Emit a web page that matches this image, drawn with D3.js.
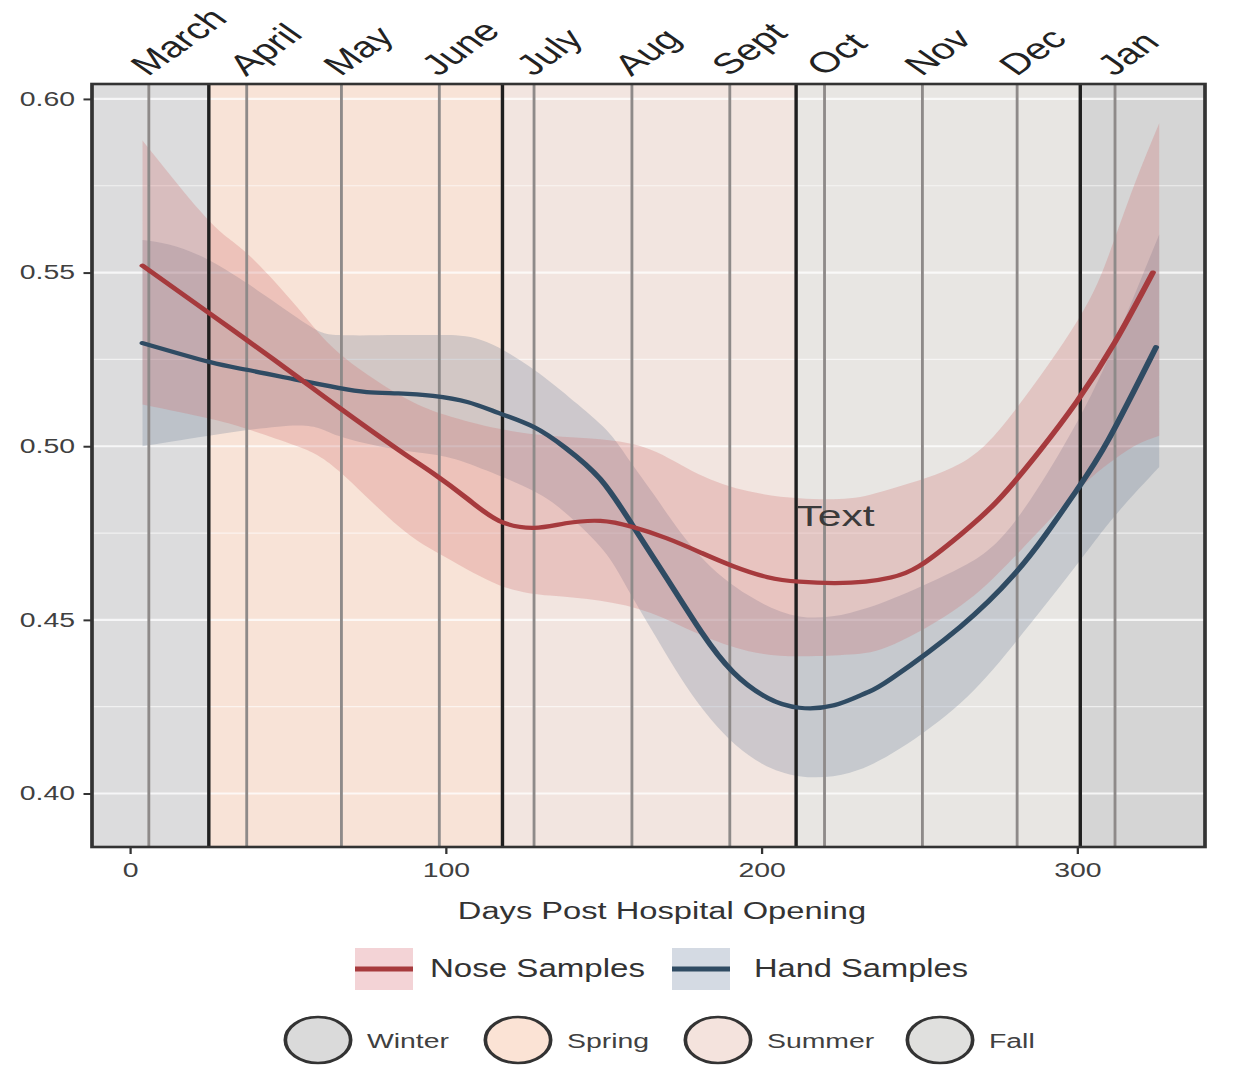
<!DOCTYPE html>
<html>
<head>
<meta charset="utf-8">
<script src="https://cdn.jsdelivr.net/npm/d3@7"></script>
<style>
  html, body { margin: 0; padding: 0; background: #ffffff; }
  svg { display: block; font-family: "Liberation Sans", Arial, Helvetica, sans-serif; }
</style>
</head>
<body>
<svg id="chart"></svg>
<script>
// ---------------- DATA ----------------
const monthLabels = ["March", "April", "May", "June", "July", "Aug", "Sept", "Oct", "Nov", "Dec", "Jan"];
const monthDays = [6, 37, 67, 98, 128, 159, 190, 220, 251, 281, 312];
const seasonBoundaryDays = [25, 118, 211, 301];
const seasonBandNames = ["Winter", "Spring", "Summer", "Fall", "Winter"];
const seasonLegendNames = ["Winter", "Spring", "Summer", "Fall"];
const yTicks = [0.40, 0.45, 0.50, 0.55, 0.60];
const yMinorTicks = [0.425, 0.475, 0.525, 0.575];
const xTicks = [0, 100, 200, 300];

// Nose samples (red) smoothed line
const noseDays = [4, 25, 37, 53, 66, 85, 96, 107, 117, 128, 138, 149, 159, 170, 181, 191, 202, 212, 223, 233, 241, 250, 263, 275, 288, 300, 312, 324];
const noseValues = [0.552, 0.5384, 0.5306, 0.5200, 0.5113, 0.4990, 0.4922, 0.4848, 0.4785, 0.4765, 0.4778, 0.4785, 0.4768, 0.4735, 0.4693, 0.4655, 0.4623, 0.4610, 0.4606, 0.4610, 0.4622, 0.4655, 0.4745, 0.4845, 0.4985, 0.5130, 0.5300, 0.5500];
// Nose confidence band
const noseBandDays = [4, 25, 37, 53, 66, 85, 100, 117, 133, 149, 165, 180, 196, 212, 228, 242, 263, 280, 300, 310, 318, 326];
const noseUpper = [0.588, 0.565, 0.5556, 0.540, 0.527, 0.515, 0.509, 0.505, 0.503, 0.502, 0.499, 0.492, 0.487, 0.485, 0.485, 0.488, 0.495, 0.510, 0.536, 0.555, 0.575, 0.593];
const noseLower = [0.512, 0.508, 0.505, 0.500, 0.493, 0.477, 0.468, 0.4600, 0.4570, 0.4555, 0.452, 0.446, 0.441, 0.4395, 0.440, 0.443, 0.454, 0.468, 0.487, 0.495, 0.500, 0.503];

// Hand samples (blue) smoothed line
const handDays = [4, 25, 37, 53, 66, 75, 85, 96, 107, 117, 128, 138, 149, 159, 170, 181, 191, 202, 212, 223, 233, 241, 263, 280, 290, 300, 310, 325];
const handValues = [0.5297, 0.5243, 0.5220, 0.5191, 0.5168, 0.5156, 0.5152, 0.5145, 0.5127, 0.5095, 0.5055, 0.4995, 0.4905, 0.4775, 0.4620, 0.4465, 0.4350, 0.4275, 0.4247, 0.4254, 0.4289, 0.4330, 0.4480, 0.4630, 0.4745, 0.4875, 0.5020, 0.5285];
// Hand confidence band
const handBandDays = [4, 25, 53, 66, 85, 100, 113, 128, 139, 150, 157, 166, 180, 196, 212, 228, 244, 263, 280, 300, 312, 326];
const handUpper = [0.5594, 0.5536, 0.537, 0.532, 0.532, 0.532, 0.530, 0.522, 0.5142, 0.5055, 0.4975, 0.4860, 0.4690, 0.4570, 0.4510, 0.4520, 0.4570, 0.4650, 0.4780, 0.5070, 0.5300, 0.5610];
const handLower = [0.500, 0.503, 0.506, 0.503, 0.499, 0.497, 0.493, 0.487, 0.480, 0.470, 0.460, 0.446, 0.426, 0.411, 0.405, 0.406, 0.413, 0.426, 0.443, 0.466, 0.480, 0.494];

const seriesNames = ["Nose Samples", "Hand Samples"];

// ---------------- STYLE / LAYOUT ----------------
const W = 1248, H = 1065;
const SX = 1.42;               // horizontal stretch of the reference picture
const VW = W / SX;
const px0 = 92 / SX, px1 = 1205 / SX, py0 = 84, py1 = 847;
const seasonFills = ["#dcdcdd", "#f8e3d7", "#f2e5e0", "#e8e6e3", "#d5d5d5"];
const legendFills = { Winter: "#dadada", Spring: "#fbe3d5", Summer: "#f4e3dd", Fall: "#e0e0de" };
const noseColor = "#a63a3d", handColor = "#2f4b63";

const svg = d3.select("#chart")
  .attr("width", W).attr("height", H)
  .attr("viewBox", `0 0 ${VW} ${H}`)
  .attr("preserveAspectRatio", "none");

const x = d3.scaleLinear().domain([-12, 340.5]).range([px0, px1]);
const y = d3.scaleLinear().domain([0.3846, 0.6043]).range([py1, py0]);
const [d0, d1] = x.domain();

svg.append("defs").append("clipPath").attr("id", "panel")
  .append("rect").attr("x", px0).attr("y", py0).attr("width", px1 - px0).attr("height", py1 - py0);

const panel = svg.append("g").attr("clip-path", "url(#panel)");

// season background rects
const edges = [d0, ...seasonBoundaryDays, d1];
panel.selectAll("rect.season").data(seasonBandNames).join("rect")
  .attr("class", "season")
  .attr("x", (d, i) => x(edges[i]))
  .attr("width", (d, i) => x(edges[i + 1]) - x(edges[i]))
  .attr("y", py0).attr("height", py1 - py0)
  .attr("fill", (d, i) => seasonFills[i]);

// horizontal grid lines
panel.selectAll("line.gmin").data(yMinorTicks).join("line")
  .attr("x1", px0).attr("x2", px1).attr("y1", d => y(d)).attr("y2", d => y(d))
  .attr("stroke", "#ffffff").attr("stroke-opacity", 0.6).attr("stroke-width", 1.2);
panel.selectAll("line.gmaj").data(yTicks).join("line")
  .attr("x1", px0).attr("x2", px1).attr("y1", d => y(d)).attr("y2", d => y(d))
  .attr("stroke", "#ffffff").attr("stroke-opacity", 0.75).attr("stroke-width", 2.2);

// confidence bands
const smooth = d3.curveNatural;
const area = (days, lo, hi) => d3.area()
  .x((d, i) => x(days[i])).y0((d, i) => y(lo[i])).y1((d, i) => y(hi[i]))
  .curve(smooth)(days);
panel.append("path").attr("d", area(handBandDays, handLower, handUpper))
  .attr("fill", "#5f7591").attr("fill-opacity", 0.25);
panel.append("path").attr("d", area(noseBandDays, noseLower, noseUpper))
  .attr("fill", "#cf6c6c").attr("fill-opacity", 0.27);

// month lines and season boundaries
panel.selectAll("line.month").data(monthDays).join("line")
  .attr("x1", d => x(d)).attr("x2", d => x(d)).attr("y1", py0).attr("y2", py1)
  .attr("stroke", "#8e8a89").attr("stroke-width", 2.0);
panel.selectAll("line.season").data(seasonBoundaryDays).join("line")
  .attr("x1", d => x(d)).attr("x2", d => x(d)).attr("y1", py0).attr("y2", py1)
  .attr("stroke", "#1f1f1f").attr("stroke-width", 2.4);

// smoothed lines
const line = (days, vals) => d3.line()
  .x((d, i) => x(days[i])).y((d, i) => y(vals[i]))
  .curve(smooth)(days);
panel.append("path").attr("d", line(handDays, handValues))
  .attr("fill", "none").attr("stroke", handColor).attr("stroke-width", 4.2).attr("stroke-linecap", "round");
panel.append("path").attr("d", line(noseDays, noseValues))
  .attr("fill", "none").attr("stroke", noseColor).attr("stroke-width", 4.2).attr("stroke-linecap", "round");

// annotation
panel.append("text").attr("x", x(223.5)).attr("y", y(0.480))
  .attr("text-anchor", "middle").attr("dominant-baseline", "central")
  .attr("font-size", 30).attr("fill", "#3a3a3a").text("Text");

// panel border
svg.append("rect").attr("x", px0).attr("y", py0).attr("width", px1 - px0).attr("height", py1 - py0)
  .attr("fill", "none").attr("stroke", "#333333").attr("stroke-width", 2.6);

// y axis
const yAxis = svg.append("g").attr("transform", `translate(${px0},0)`)
  .call(d3.axisLeft(y).tickValues(yTicks).tickFormat(d3.format(".2f")).tickSize(6).tickPadding(6));
yAxis.select(".domain").remove();
yAxis.selectAll("line").attr("stroke", "#333").attr("stroke-width", 2);
yAxis.selectAll("text").attr("font-size", 20).attr("fill", "#404040")
  .attr("font-family", "Liberation Sans, Arial, sans-serif");

// x axis
const xAxis = svg.append("g").attr("transform", `translate(0,${py1})`)
  .call(d3.axisBottom(x).tickValues(xTicks).tickFormat(d3.format("d")).tickSize(7).tickPadding(9));
xAxis.select(".domain").remove();
xAxis.selectAll("line").attr("stroke", "#333").attr("stroke-width", 1.6);
xAxis.selectAll("text").attr("font-size", 20).attr("fill", "#404040")
  .attr("font-family", "Liberation Sans, Arial, sans-serif");

// month axis (top)
const mAxis = svg.append("g").attr("transform", `translate(0,${py0})`)
  .call(d3.axisTop(x).tickValues(monthDays).tickFormat((d, i) => monthLabels[i]).tickSize(0));
mAxis.select(".domain").remove();
mAxis.selectAll("text")
  .attr("x", 0).attr("y", 0).attr("dy", 0)
  .attr("text-anchor", "start")
  .attr("transform", "translate(-1,-7) rotate(-45)")
  .attr("font-size", 29).attr("fill", "#222")
  .attr("font-family", "Liberation Sans, Arial, sans-serif");

// x title
svg.append("text").attr("x", 662 / SX).attr("y", 919).attr("text-anchor", "middle")
  .attr("font-size", 23).attr("fill", "#333").text("Days Post Hospital Opening");

// legend 1 (series)
const leg1 = [
  { name: seriesNames[0], keyX: 355, textX: 430, w: 215, box: "#f3d3d6", col: noseColor },
  { name: seriesNames[1], keyX: 672, textX: 754, w: 214, box: "#d4dae3", col: handColor }
];
const l1 = svg.append("g");
leg1.forEach(d => {
  l1.append("rect").attr("x", d.keyX / SX).attr("y", 948).attr("width", 58 / SX).attr("height", 42).attr("fill", d.box);
  l1.append("line").attr("x1", d.keyX / SX).attr("x2", (d.keyX + 58) / SX).attr("y1", 969).attr("y2", 969)
    .attr("stroke", d.col).attr("stroke-width", 5);
  l1.append("text").attr("x", d.textX / SX).attr("y", 977).attr("font-size", 26).attr("fill", "#333")
    .attr("textLength", d.w / SX).attr("lengthAdjust", "spacingAndGlyphs").text(d.name);
});

// legend 2 (seasons)
const leg2X = [318, 518, 718, 940];
const l2 = svg.append("g");
seasonLegendNames.forEach((s, i) => {
  l2.append("circle").attr("cx", leg2X[i] / SX).attr("cy", 1040).attr("r", 23)
    .attr("fill", legendFills[s]).attr("stroke", "#333").attr("stroke-width", 2.6);
  l2.append("text").attr("x", (leg2X[i] + 49) / SX).attr("y", 1048).attr("font-size", 20)
    .attr("fill", "#404040").text(s);
});
</script>
</body>
</html>
